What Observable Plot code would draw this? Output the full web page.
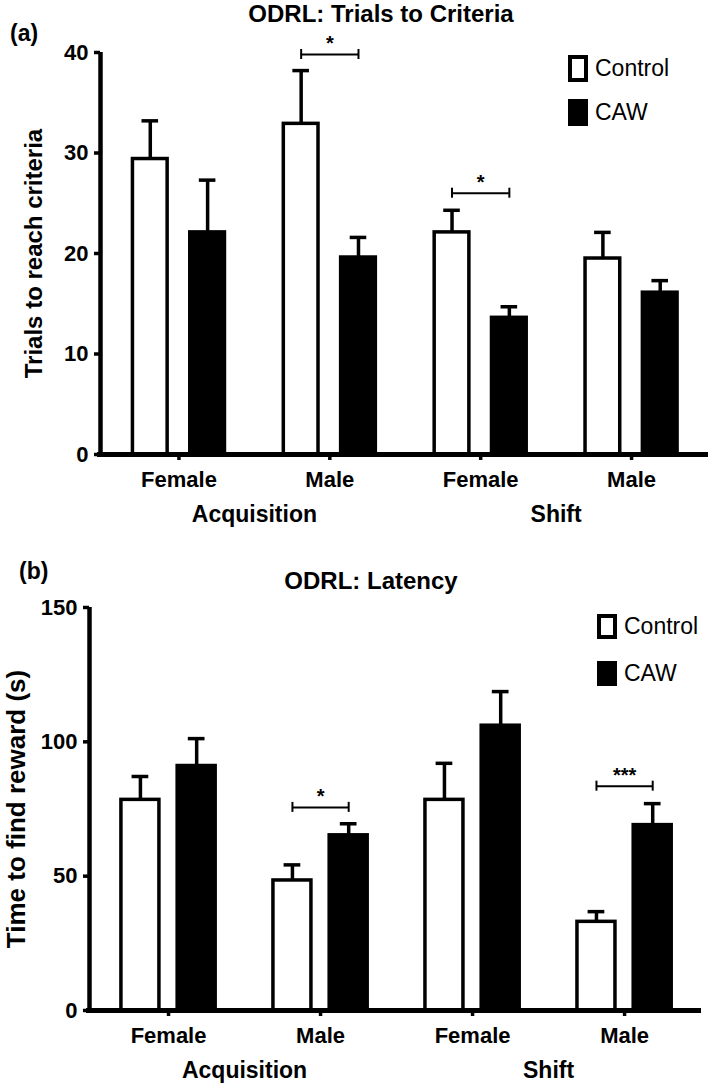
<!DOCTYPE html>
<html>
<head>
<meta charset="utf-8">
<script src="https://cdn.jsdelivr.net/npm/d3@7"></script>
<script src="https://cdn.jsdelivr.net/npm/@observablehq/plot@0.6"></script>
<style>
  html, body { margin: 0; padding: 0; background: #fff; }
  #page { position: relative; width: 709px; height: 1083px; background: #fff; font-family: "Liberation Sans", Arial, sans-serif; color: #000; overflow: hidden; }
  .abs { position: absolute; white-space: nowrap; line-height: 1; }
  .bold { font-weight: bold; }
  .panel { position: absolute; left: 0; }
  .lgbox { position: absolute; box-sizing: border-box; border: 4px solid #000; }
</style>
</head>
<body>
<div id="page"></div>
<script>
// ---------------- DATA ----------------
const sexes = ["Female", "Male", "Female", "Male"];
const phases = ["Acquisition", "Acquisition", "Shift", "Shift"];
const treatments = ["Control", "CAW"];

// Panel (a): ODRL trials to criteria (mean, SEM)
const trialsControlMean = [29.4, 32.9, 22.1, 19.5];
const trialsControlSem  = [3.8, 5.3, 2.2, 2.6];
const trialsCAWMean     = [22.1, 19.6, 13.6, 16.1];
const trialsCAWSem      = [5.2, 2.0, 1.1, 1.2];
const trialsTicks = [0, 10, 20, 30, 40];
const trialsSig = [{group: 1, y: 39.8, label: "*"}, {group: 2, y: 26.0, label: "*"}];

// Panel (b): ODRL latency (mean, SEM)
const latencyControlMean = [78.4, 48.4, 78.4, 33.0];
const latencyControlSem  = [8.7, 5.8, 13.6, 3.8];
const latencyCAWMean     = [91.0, 65.2, 106.0, 69.0];
const latencyCAWSem      = [10.2, 4.3, 12.7, 8.0];
const latencyTicks = [0, 50, 100, 150];
const latencySig = [{group: 1, y: 75.6, label: "*"}, {group: 3, y: 83.5, label: "***"}];

// ---------------- HELPERS ----------------
const FONT = "Liberation Sans, Arial, sans-serif";

function buildRows(ctrlMean, ctrlSem, cawMean, cawSem) {
  const rows = [];
  sexes.forEach((s, i) => {
    rows.push({group: i, treatment: "Control", mean: ctrlMean[i], sem: ctrlSem[i]});
    rows.push({group: i, treatment: "CAW", mean: cawMean[i], sem: cawSem[i]});
  });
  return rows;
}

function phaseCenters() {
  const names = Array.from(new Set(phases));
  return names.map(p => {
    const idx = phases.map((q, i) => q === p ? i : null).filter(v => v !== null);
    return {phase: p, x: d3.mean(idx)};
  });
}

function panel({rows, sig, ticks, yMax, yLabel, yLabelSize, width, height, mL, mR, mT, mB, xMin, xMax, off, half, cap, yLabelDx}) {
  const cx = d => d.group + (d.treatment === "Control" ? -off : off);
  return Plot.plot({
    width, height,
    marginLeft: mL, marginRight: mR, marginTop: mT, marginBottom: mB,
    style: {fontFamily: FONT, background: "white", overflow: "visible"},
    x: {type: "linear", domain: [xMin, xMax], axis: null},
    y: {domain: [0, yMax], axis: null},
    marks: [
      // bars
      Plot.rectY(rows, {
        x1: d => cx(d) - half, x2: d => cx(d) + half, y1: 0, y2: "mean",
        fill: d => d.treatment === "Control" ? "white" : "black",
        stroke: "black", strokeWidth: 3.5
      }),
      // error bars (upper only)
      Plot.ruleX(rows, {x: cx, y1: "mean", y2: d => d.mean + d.sem, stroke: "black", strokeWidth: 3.5}),
      Plot.ruleY(rows, {y: d => d.mean + d.sem, x1: d => cx(d) - cap, x2: d => cx(d) + cap, stroke: "black", strokeWidth: 3.5}),
      // significance brackets
      Plot.ruleY(sig, {y: "y", x1: d => d.group - off, x2: d => d.group + off, stroke: "black", strokeWidth: 2}),
      Plot.ruleX(sig, {x: d => d.group - off, y1: "y", y2: "y", insetTop: -5, insetBottom: -5, stroke: "black", strokeWidth: 2}),
      Plot.ruleX(sig, {x: d => d.group + off, y1: "y", y2: "y", insetTop: -5, insetBottom: -5, stroke: "black", strokeWidth: 2}),
      Plot.text(sig, {x: "group", y: "y", text: "label", dy: -11, fontSize: 20, fontWeight: "bold", fill: "black"}),
      // axes
      Plot.axisY({ticks, tickSize: 6, tickPadding: 6, strokeWidth: 3.5, fontSize: 22, fontWeight: "bold", fill: "black", label: null}),
      Plot.ruleX([xMin], {y1: 0, y2: yMax, stroke: "black", strokeWidth: 4.5}),
      Plot.ruleY([0], {stroke: "black", strokeWidth: 5, insetLeft: -3}),
      Plot.axisX({ticks: [0, 1, 2, 3], tickFormat: i => sexes[i], tickSize: 6, tickPadding: 11, strokeWidth: 3.5, fontSize: 22, fontWeight: "bold", fill: "black", label: null}),
      Plot.text(phaseCenters(), {x: "x", text: "phase", frameAnchor: "bottom", dy: 67, fontSize: 23, fontWeight: "bold", fill: "black"}),
      // y-axis title
      Plot.text([yLabel], {text: d => d, frameAnchor: "left", textAnchor: "middle", lineAnchor: "middle", rotate: -90, dx: yLabelDx, fontSize: yLabelSize, fontWeight: "bold", fill: "black"})
    ]
  });
}

// ---------------- LAYOUT ----------------
const page = document.getElementById("page");

const svgA = panel({
  rows: buildRows(trialsControlMean, trialsControlSem, trialsCAWMean, trialsCAWSem),
  sig: trialsSig, ticks: trialsTicks, yMax: 40, yLabel: "Trials to reach criteria", yLabelSize: 24,
  width: 709, height: 530, mL: 100, mR: 1, mT: 52, mB: 76, xMin: -0.52, xMax: 3.51,
  off: 0.19, half: 0.115, cap: 0.055, yLabelDx: -66
});
const wrapA = document.createElement("div");
wrapA.className = "panel"; wrapA.style.top = "0px";
wrapA.appendChild(svgA);
page.appendChild(wrapA);

const svgB = panel({
  rows: buildRows(latencyControlMean, latencyControlSem, latencyCAWMean, latencyCAWSem),
  sig: latencySig, ticks: latencyTicks, yMax: 150, yLabel: "Time to find reward (s)", yLabelSize: 26,
  width: 709, height: 553, mL: 89, mR: 8, mT: 77, mB: 73, xMin: -0.52, xMax: 3.506,
  off: 0.185, half: 0.125, cap: 0.055, yLabelDx: -73
});
const wrapB = document.createElement("div");
wrapB.className = "panel"; wrapB.style.top = "530px";
wrapB.appendChild(svgB);
page.appendChild(wrapB);

// titles, panel letters
function addText(txt, left, top, size, bold, center) {
  const el = document.createElement("div");
  el.className = "abs" + (bold ? " bold" : "");
  el.textContent = txt;
  el.style.fontSize = size + "px";
  el.style.top = top + "px";
  if (center) { el.style.left = (left - 300) + "px"; el.style.width = "600px"; el.style.textAlign = "center"; }
  else el.style.left = left + "px";
  page.appendChild(el);
}
addText("(a)", 10, 22, 23, true, false);
addText("ODRL: Trials to Criteria", 381, 2, 24, true, true);
addText("(b)", 19, 560, 23, true, false);
addText("ODRL: Latency", 371, 569, 24, true, true);

// legends
function addLegend(x, y1, y2, bh, size) {
  [[treatments[0], "white", y1], [treatments[1], "black", y2]].forEach(([name, fill, y]) => {
    const b = document.createElement("div");
    b.className = "lgbox";
    b.style.left = x + "px"; b.style.top = y + "px";
    b.style.width = "20px"; b.style.height = bh + "px";
    b.style.background = fill;
    page.appendChild(b);
    const t = document.createElement("div");
    t.className = "abs";
    t.textContent = name;
    t.style.fontSize = size + "px";
    t.style.left = (x + 27) + "px";
    t.style.top = (y + bh / 2 - size * 0.5) + "px";
    page.appendChild(t);
  });
}
addLegend(568, 55, 99, 27, 23);
addLegend(597, 614, 661, 25, 23);
</script>
</body>
</html>
